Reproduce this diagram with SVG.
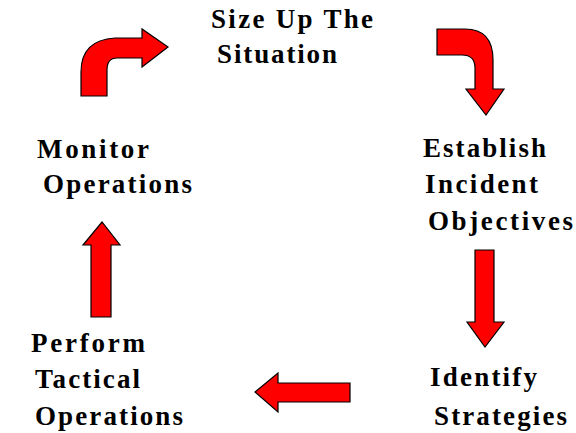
<svg xmlns="http://www.w3.org/2000/svg" width="576" height="433" viewBox="0 0 576 433">
<style>
text{font-family:"Liberation Serif","Times New Roman",serif;font-weight:bold;font-size:27px;fill:#000}
.arr{fill:#ff0000;stroke:#000;stroke-width:1.2;stroke-linejoin:miter}
</style>
<rect width="576" height="433" fill="#fff"/>
<g id="node-sizeup">
<text x="211" y="28" textLength="162" lengthAdjust="spacing">Size Up The</text>
<text x="217" y="63" textLength="120" lengthAdjust="spacing">Situation</text>
</g>
<g id="node-establish">
<text x="423" y="157" textLength="123" lengthAdjust="spacing">Establish</text>
<text x="425" y="193" textLength="113" lengthAdjust="spacing">Incident</text>
<text x="428" y="230" textLength="145" lengthAdjust="spacing">Objectives</text>
</g>
<g id="node-identify">
<text x="430" y="386" textLength="107" lengthAdjust="spacing">Identify</text>
<text x="434" y="425" textLength="133" lengthAdjust="spacing">Strategies</text>
</g>
<g id="node-perform">
<text x="31" y="352" textLength="114" lengthAdjust="spacing">Perform</text>
<text x="35" y="388" textLength="105" lengthAdjust="spacing">Tactical</text>
<text x="35" y="425" textLength="148" lengthAdjust="spacing">Operations</text>
</g>
<g id="node-monitor">
<text x="37" y="158" textLength="112" lengthAdjust="spacing">Monitor</text>
<text x="43" y="193" textLength="149" lengthAdjust="spacing">Operations</text>
</g>
<g id="connectors">
<path class="arr" d="M81,96 L81,72 Q81,40 115,38 L142,38 L142,29 L168,47 L142,67 L142,58 L117,58 Q107,58 107,70 L107,96 Z"/>
<path class="arr" d="M437,29 L465,29 Q493,29 493,60 L493,89 L504,89 L486,115 L466,89 L475,89 L475,68 Q475,55 462,55 L437,55 Z"/>
<path class="arr" d="M475,250 L494,250 L494,322 L504,322 L485,347 L467,322 L475,322 Z"/>
<path class="arr" d="M350,383 L278,383 L278,373 L255,392 L278,412 L278,402 L350,402 Z"/>
<path class="arr" d="M91,317 L91,245 L83,245 L102,222 L120,245 L111,245 L111,317 Z"/>
</g>
</svg>
